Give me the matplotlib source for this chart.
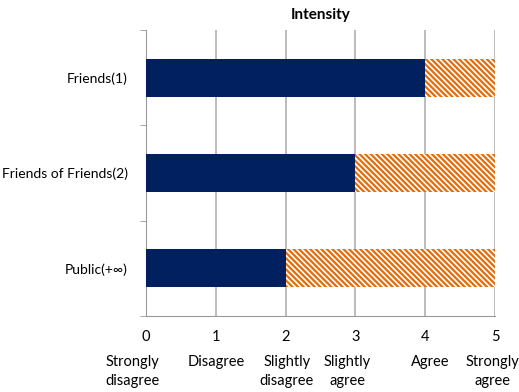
import matplotlib.pyplot as plt
import numpy as np

plt.rcParams['font.family'] = ['Lato', 'DejaVu Sans']
plt.rcParams['hatch.linewidth'] = 1.6

# data
categories = ["Friends(1)", "Friends of Friends(2)", "Public(+\u221e)"]
values = [4, 3, 2]
scale_max = 5
ticks = [0, 1, 2, 3, 4, 5]
scale_labels = ["Strongly\ndisagree", "Disagree", "Slightly\ndisagree",
                "Slightly\nagree", "Agree", "Strongly\nagree"]
scale_label_x = [-0.2, 1.0, 2.02, 2.88, 4.07, 4.96]

navy = "#002060"
orange = "#E46C0A"

fig = plt.figure(figsize=(5.19, 3.92), dpi=100)
ax = fig.add_axes([146 / 519, 1 - 316 / 392, (495 - 146) / 519, (316 - 30) / 392])

y = np.arange(len(categories))[::-1]
rest = [scale_max - v for v in values]
ax.barh(y, values, height=0.4, color=navy, zorder=3)
ax.barh(y, rest, left=values, height=0.4, color="white", edgecolor=orange,
        hatch="\\" * 6, linewidth=0, zorder=3)

ax.set_xlim(0, scale_max)
ax.set_ylim(-0.5, len(categories) - 0.5)
ax.set_xticks(ticks)
ax.set_xticklabels([str(t) for t in ticks], fontsize=10.5)
ax.set_yticks(y)
ax.set_yticklabels(categories, fontsize=10)
ax.tick_params(axis="y", length=0, pad=13)
ax.tick_params(axis="x", length=0, pad=10)
ax.set_yticks(np.arange(-0.5, len(categories)), minor=True)
ax.tick_params(axis="y", which="minor", length=4, color="#999999")

ax.grid(axis="x", color="#b0b0b0", linewidth=1.2, zorder=0)
for s in ["top", "right"]:
    ax.spines[s].set_visible(False)
ax.spines["left"].set_color("#999999")
ax.spines["bottom"].set_color("#999999")

ax.set_title("Intensity", fontsize=11, fontweight="bold", pad=8)

for xv, lab in zip(scale_label_x, scale_labels):
    ax.text(xv, -0.135, lab, transform=ax.get_xaxis_transform(), ha="center",
            va="top", fontsize=10.5, linespacing=1.45)

fig.savefig("out.png", dpi=100)
